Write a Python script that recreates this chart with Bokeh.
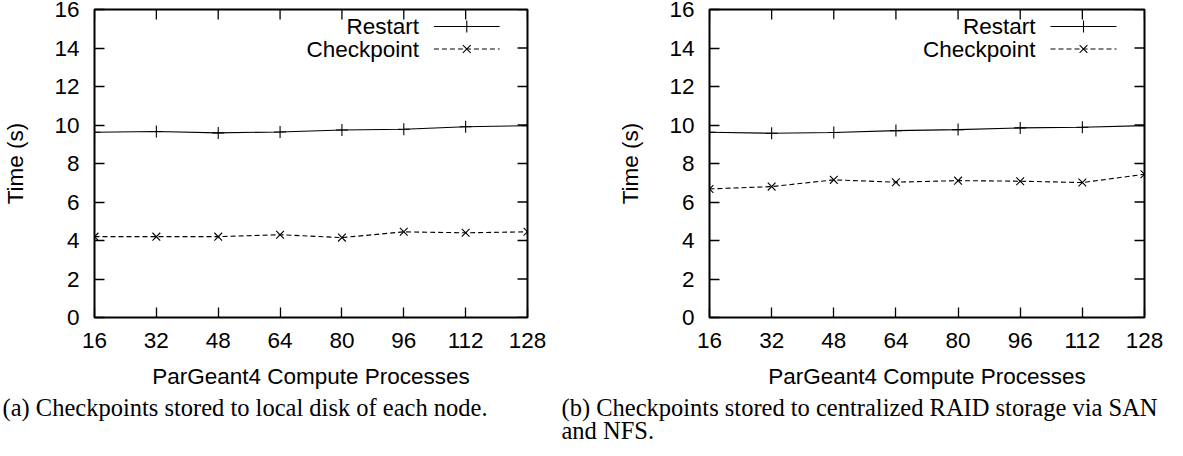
from bokeh.plotting import figure
from bokeh.models import Range1d, FixedTicker, Title
from bokeh.layouts import row
from bokeh.embed import file_html
from bokeh.resources import INLINE
from bokeh.core.properties import value

# ---------------- data ----------------
processes = [16, 32, 48, 64, 80, 96, 112, 128]
restart_local = [9.62, 9.66, 9.59, 9.64, 9.74, 9.78, 9.91, 9.96]
checkpoint_local = [4.2, 4.2, 4.2, 4.3, 4.15, 4.45, 4.4, 4.45]
restart_raid = [9.62, 9.57, 9.61, 9.71, 9.76, 9.85, 9.88, 9.97]
checkpoint_raid = [6.68, 6.80, 7.15, 7.03, 7.11, 7.08, 7.01, 7.44]

x_ticks = [16, 32, 48, 64, 80, 96, 112, 128]
y_ticks = [0, 2, 4, 6, 8, 10, 12, 14, 16]
series_names = ["Restart", "Checkpoint"]
x_label = "ParGeant4 Compute Processes"
y_label = "Time (s)"
caption_a = ["(a) Checkpoints stored to local disk of each node."]
caption_b = ["(b) Checkpoints stored to centralized RAID storage via SAN", "and NFS."]

# ---------------- layout constants ----------------
H = 440
FRAME_W = 435
TOP = 9
FRAME_H = 308
BOTTOM = H - TOP - FRAME_H
TICK = 10
SANS = "Liberation Sans"
SERIF = "Liberation Serif"
FS = "22.5px"
CAP_FS = "24.5px"
CAP_STANDOFF = [1, -14]


def style_axis(ax, ticks):
    ax.ticker = FixedTicker(ticks=ticks)
    ax.axis_line_color = None
    ax.major_tick_in = TICK
    ax.major_tick_out = 0
    ax.minor_tick_in = 0
    ax.minor_tick_out = 0
    ax.major_tick_line_color = "black"
    ax.major_tick_line_width = 1.3
    ax.major_label_text_font = SANS
    ax.major_label_text_font_size = FS
    ax.major_label_text_color = "black"
    ax.axis_label_text_font = SANS
    ax.axis_label_text_font_size = FS
    ax.axis_label_text_font_style = "normal"
    ax.axis_label_text_color = "black"


def make_panel(width, left_border, restart, checkpoint, caption):
    p = figure(width=width, height=H,
               x_range=Range1d(16, 128), y_range=Range1d(0, 16),
               output_backend="svg", toolbar_location=None,
               min_border_left=left_border,
               min_border_right=width - left_border - FRAME_W,
               min_border_top=TOP, min_border_bottom=BOTTOM,
               background_fill_color="white", border_fill_color="white")
    p.grid.visible = False
    p.outline_line_color = "black"
    p.outline_line_width = 2

    style_axis(p.xaxis[0], x_ticks)
    style_axis(p.yaxis[0], y_ticks)
    p.xaxis[0].axis_label = x_label
    p.yaxis[0].axis_label = y_label
    p.xaxis[0].major_label_standoff = 15
    p.xaxis[0].axis_label_standoff = 13
    p.yaxis[0].major_label_standoff = 15
    p.yaxis[0].axis_label_standoff = 23

    # frame-pixel coordinate system for key and mirrored ticks
    p.extra_x_ranges = {"px": Range1d(0, FRAME_W)}
    p.extra_y_ranges = {"px": Range1d(0, FRAME_H)}

    # mirrored ticks on top and right borders
    p.segment(x0=x_ticks, x1=x_ticks, y0=[FRAME_H] * len(x_ticks), y1=[FRAME_H - TICK] * len(x_ticks),
              y_range_name="px", line_color="black", line_width=1.3)
    p.segment(x0=[FRAME_W] * len(y_ticks), x1=[FRAME_W - TICK] * len(y_ticks), y0=y_ticks, y1=y_ticks,
              x_range_name="px", line_color="black", line_width=1.3)

    # data
    p.line(processes, restart, line_color="black", line_width=1.1)
    p.scatter(processes, restart, marker="cross", size=12, line_color="black", line_width=1.1)
    p.line(processes, checkpoint, line_color="black", line_width=1.1, line_dash="5 3")
    p.scatter(processes, checkpoint, marker="x", size=11, line_color="black", line_width=1.1)

    # key
    rows_y = [FRAME_H - 17, FRAME_H - 39.5]
    text_x = FRAME_W - 109
    l0, l1, mk = FRAME_W - 94, FRAME_W - 28, FRAME_W - 61
    dashes = ["solid", "5 3"]
    markers = ["cross", "x"]
    msize = [12, 11]
    for name, yy, dash, mkr, ms in zip(series_names, rows_y, dashes, markers, msize):
        p.text(x=[text_x], y=[yy], text=[name], text_align="right", text_baseline="middle",
               text_font=value(SANS), text_font_size=FS, text_color="black",
               x_range_name="px", y_range_name="px")
        p.line(x=[l0, l1], y=[yy, yy], line_color="black", line_width=1.1, line_dash=dash,
               x_range_name="px", y_range_name="px")
        p.scatter(x=[mk], y=[yy], marker=mkr, size=ms, line_color="black", line_width=1.1,
                  x_range_name="px", y_range_name="px")

    # caption
    for line, so in zip(caption, CAP_STANDOFF):
        p.add_layout(Title(text=line, align="left", offset=-left_border,
                           vertical_align="bottom",
                           text_font=SERIF, text_font_size=CAP_FS, text_font_style="normal",
                           text_color="black", standoff=so), "below")
    return p


pa = make_panel(561, 92, restart_local, checkpoint_local, caption_a)
pb = make_panel(606, 148, restart_raid, checkpoint_raid, caption_b)

layout = row(pa, pb)
open("out.html", "w").write(file_html(layout, INLINE))
